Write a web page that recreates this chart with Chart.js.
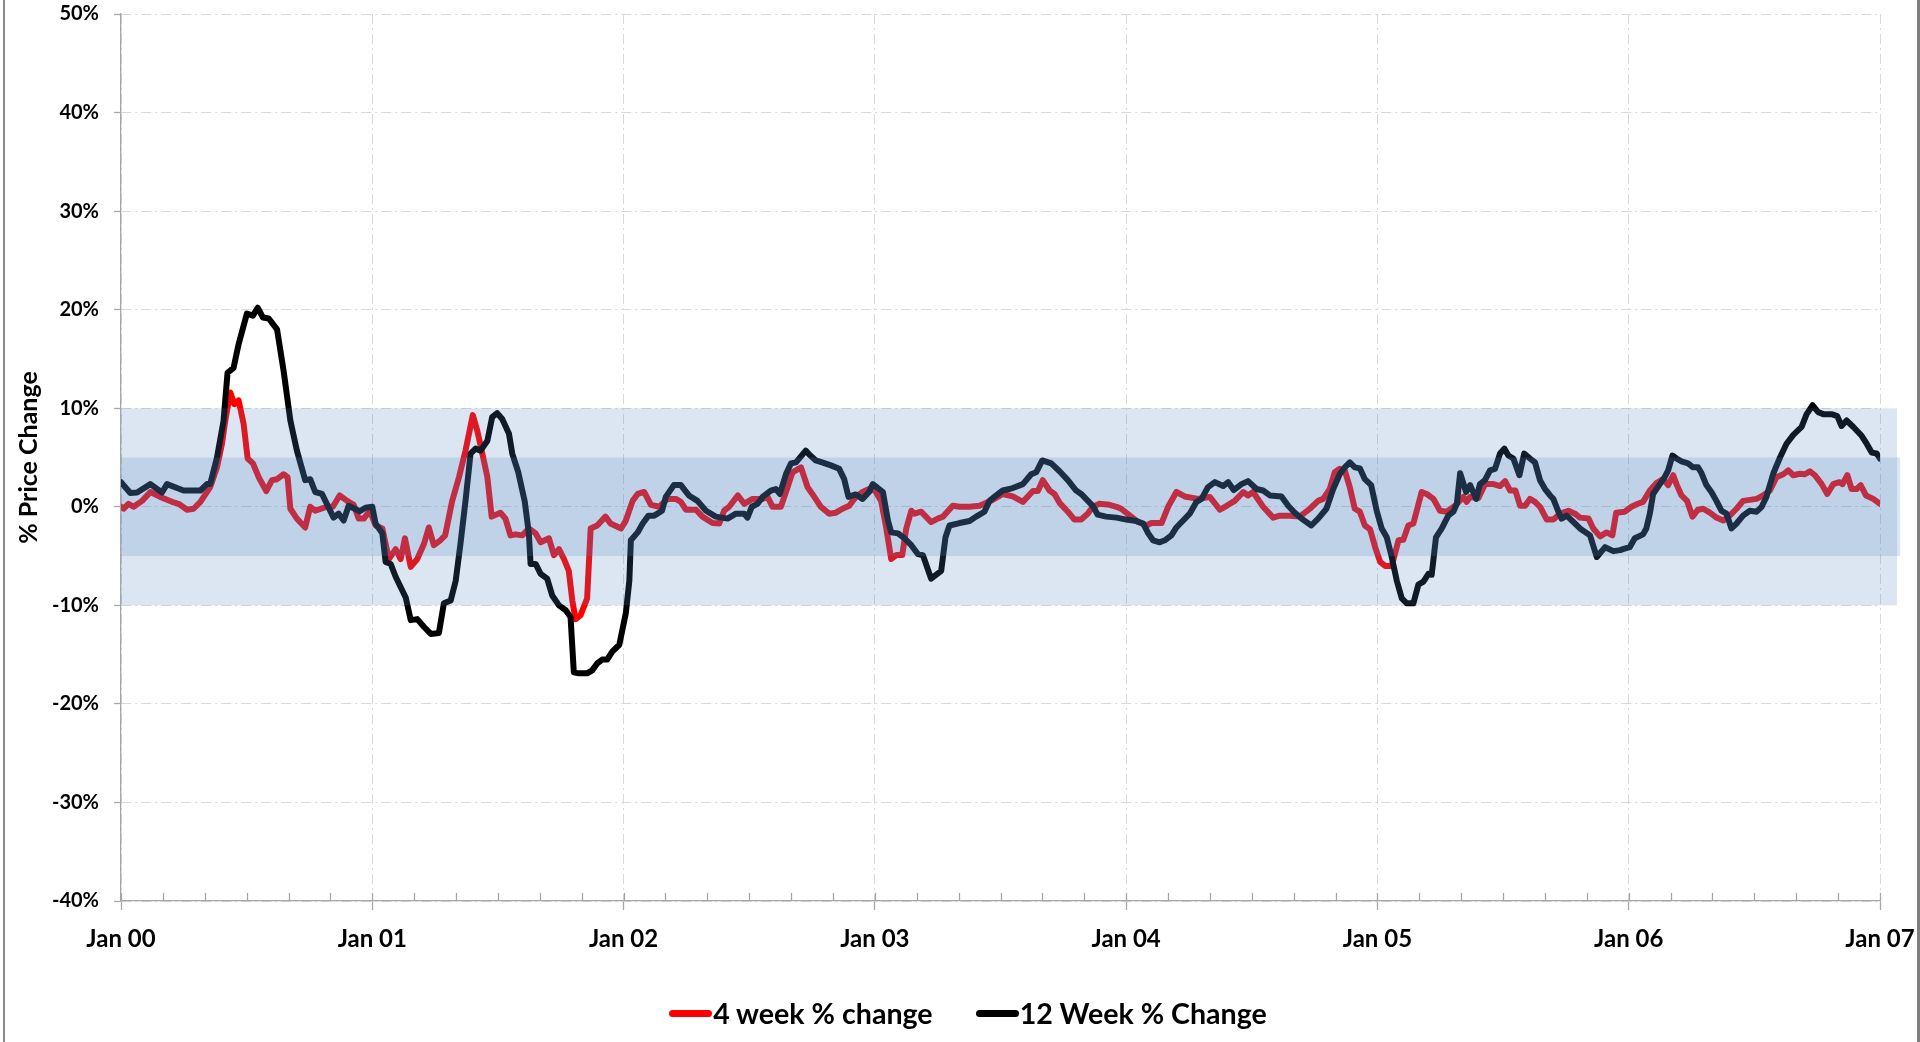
<!DOCTYPE html>
<html>
<head>
<meta charset="utf-8">
<script src="https://cdn.jsdelivr.net/npm/chart.js@4.4.0/dist/chart.umd.min.js"></script>
<style>
html,body{margin:0;padding:0;background:#fff;overflow:hidden}
#wrap{position:relative;width:1920px;height:1042px;background:#fff}
#c{position:absolute;left:0;top:0}
.frameL{position:absolute;left:3px;top:0;width:2px;height:1042px;background:#8a8a8a}
.frameR{position:absolute;left:1917px;top:0;width:3px;height:1042px;background:#7f7f7f}
#legend{position:absolute;left:8px;width:1920px;top:993px;height:40px;display:flex;justify-content:center;align-items:center;font-family:Lato,sans-serif;font-weight:bold;font-size:28.6px;color:#000}
.item{display:flex;align-items:center;white-space:nowrap}
.item + .item{margin-left:43px}
.sw{width:43px;height:7px;border-radius:4px;margin-right:1px}
</style>
</head>
<body>
<div id="wrap">
  <canvas id="c" width="1920" height="1042"></canvas>
  <div class="frameL"></div>
  <div class="frameR"></div>
  <div id="legend"></div>
</div>
<script>
// ---- Data (x = years since Jan 2000, y = % price change) ----
const seriesNames = ['4 week % change', '12 Week % Change'];
const seriesColors = ['#ff0000', '#000000'];

const weeks4 = [0,0.01,0.03,0.05,0.084,0.117,0.156,0.203,0.229,0.263,0.289,0.316,0.355,0.382,0.402,0.415,0.435,0.451,0.468,0.488,0.504,0.525,0.548,0.578,0.601,0.621,0.647,0.663,0.674,0.7,0.733,0.753,0.773,0.82,0.843,0.87,0.9,0.926,0.946,0.966,0.99,
1.013,1.04,1.066,1.093,1.113,1.13,1.153,1.179,1.206,1.225,1.245,1.271,1.29,1.318,1.345,1.371,1.4,1.418,1.438,1.458,1.475,1.51,1.53,1.55,1.57,1.597,1.623,1.65,1.67,1.703,1.723,1.743,1.763,1.782,1.796,1.809,1.829,1.855,1.869,1.895,1.928,1.948,1.965,1.99,
2.009,2.036,2.056,2.082,2.109,2.142,2.175,2.208,2.228,2.248,2.288,2.314,2.354,2.381,2.4,2.42,2.455,2.48,2.513,2.553,2.573,2.593,2.626,2.653,2.672,2.706,2.732,2.759,2.785,2.818,2.845,2.871,2.898,2.924,2.951,2.977,
3.0,3.025,3.045,3.065,3.085,3.109,3.125,3.145,3.158,3.184,3.224,3.25,3.271,3.31,3.337,3.377,3.416,3.462,3.509,3.549,3.589,3.629,3.649,3.668,3.695,3.715,3.735,3.768,3.794,3.821,3.847,3.867,3.894,3.934,3.962,3.98,
4.015,4.048,4.081,4.1,4.141,4.167,4.2,4.233,4.286,4.333,4.373,4.4,4.432,4.466,4.485,4.505,4.545,4.585,4.611,4.651,4.691,4.731,4.764,4.784,4.81,4.83,4.85,4.87,4.89,4.91,4.93,4.95,4.971,4.991,
5.011,5.031,5.057,5.084,5.103,5.123,5.143,5.176,5.196,5.223,5.249,5.276,5.309,5.342,5.355,5.369,5.402,5.428,5.462,5.488,5.508,5.528,5.549,5.568,5.588,5.607,5.627,5.647,5.674,5.7,5.727,5.76,5.786,5.806,5.84,5.859,5.886,5.912,5.935,5.95,5.984,
6.011,6.037,6.057,6.084,6.11,6.137,6.157,6.177,6.19,6.21,6.232,6.254,6.276,6.296,6.323,6.349,6.376,6.402,6.429,6.455,6.482,6.509,6.535,6.562,6.588,6.615,6.635,6.655,6.681,6.701,6.721,6.741,6.768,6.79,6.814,6.838,6.851,6.87,6.887,6.907,6.923,6.944,6.973,7.0];
const change4 = [0,-0.2,0.3,0,0.6,1.5,1.0,0.5,0.3,-0.3,-0.2,0.5,2.0,4.0,6.4,8.75,11.6,10.4,10.8,8.4,4.9,4.4,3.0,1.6,2.7,2.8,3.3,3.0,-0.2,-1.2,-2.1,0,-0.4,0,0,1.15,0.6,0.2,-1.2,-1.2,-0.4,
-1.9,-2.2,-5.3,-4.3,-5.3,-3.2,-6.1,-5.3,-3.75,-2.1,-3.9,-3.4,-2.9,0.6,3.0,5.7,9.3,7.7,5.4,3.0,-1.0,-0.6,-1.2,-2.9,-2.8,-2.9,-2.2,-2.7,-3.6,-3.2,-4.9,-4.3,-5.3,-6.5,-9.5,-11.4,-11.0,-9.3,-2.2,-1.9,-1.0,-1.7,-1.9,-2.2,
-1.4,0.6,1.3,1.5,0.2,0,0.8,0.8,0.5,-0.3,-0.3,-1.0,-1.65,-1.7,-0.4,0,1.15,0.3,0.8,0.8,1.0,0,0,2.0,3.5,4.0,2.0,1.0,0,-0.7,-0.6,-0.2,0.1,1.0,1.5,1.8,
1.65,0.6,-2.1,-5.3,-4.9,-4.9,-2.2,-0.4,-0.7,-0.5,-1.55,-1.2,-1.0,0.1,0,0,0.1,0.6,1.3,1.05,0.5,1.6,1.6,2.7,1.65,1.3,0.4,-0.5,-1.3,-1.3,-0.7,0,0.3,0.2,0,-0.2,
-0.9,-1.55,-1.9,-1.65,-1.65,0,1.5,1.05,0.8,1.0,-0.3,0.1,0.6,1.5,1.15,1.5,0,-1.1,-0.9,-0.9,-1.0,-0.2,0.6,0.8,1.8,3.5,3.85,3.7,2.0,-0.2,-0.5,-1.9,-2.3,-4.1,
-5.6,-6.0,-6.0,-3.4,-3.35,-1.9,-1.7,1.5,1.3,0.8,-0.4,-0.5,0.1,1.0,0.5,1.0,0.9,2.3,2.3,2.1,2.6,1.65,1.65,0.1,0.1,0.8,0.5,0,-1.3,-1.3,-0.7,-0.4,-0.7,-1.1,-1.2,-2.2,-3.0,-2.6,-2.9,-0.6,-0.5,
0,0.3,0.5,1.65,2.4,2.8,2.2,3.2,2.3,1.15,0.6,-1.0,-0.3,-0.2,-0.6,-1.1,-1.4,-0.9,-0.2,0.6,0.7,0.8,1.15,1.65,3.0,3.3,3.7,3.2,3.35,3.3,3.6,3.2,2.3,1.3,2.3,2.5,2.3,3.2,1.8,1.8,2.2,1.15,0.8,0.3];

const weeks12 = [0,0.037,0.064,0.117,0.163,0.183,0.223,0.249,0.316,0.342,0.355,0.382,0.408,0.424,0.448,0.468,0.501,0.525,0.544,0.565,0.588,0.621,0.647,0.674,0.7,0.733,0.753,0.773,0.8,0.846,0.866,0.886,0.906,0.95,0.973,1.0,
1.013,1.04,1.053,1.073,1.093,1.133,1.153,1.179,1.206,1.233,1.265,1.285,1.312,1.332,1.351,1.371,1.391,1.411,1.431,1.458,1.477,1.497,1.517,1.544,1.557,1.581,1.607,1.623,1.63,1.65,1.67,1.696,1.716,1.743,1.77,1.789,1.802,1.822,1.855,1.875,1.895,1.915,1.935,1.955,1.983,
2.009,2.023,2.029,2.056,2.076,2.099,2.122,2.153,2.168,2.2,2.228,2.26,2.294,2.328,2.367,2.414,2.447,2.48,2.493,2.51,2.533,2.553,2.586,2.606,2.622,2.646,2.666,2.686,2.725,2.739,2.765,2.79,2.825,2.858,2.878,2.895,2.924,2.951,2.977,2.992,
3.032,3.052,3.065,3.092,3.118,3.145,3.171,3.191,3.224,3.264,3.281,3.297,3.337,3.377,3.403,3.436,3.456,3.483,3.509,3.549,3.589,3.622,3.642,3.666,3.702,3.735,3.768,3.801,3.821,3.867,3.887,3.92,3.962,
4.001,4.041,4.068,4.088,4.107,4.134,4.154,4.18,4.2,4.253,4.28,4.3,4.326,4.353,4.386,4.406,4.428,4.459,4.485,4.519,4.545,4.572,4.618,4.645,4.671,4.698,4.737,4.764,4.797,4.824,4.85,4.87,4.89,4.91,4.93,4.95,4.975,4.997,
5.017,5.037,5.057,5.077,5.097,5.117,5.143,5.163,5.183,5.203,5.216,5.233,5.256,5.282,5.302,5.316,5.329,5.353,5.369,5.393,5.408,5.428,5.448,5.468,5.488,5.505,5.521,5.541,5.565,5.584,5.607,5.627,5.647,5.667,5.687,5.7,5.72,5.733,5.753,5.78,5.806,5.846,5.873,5.906,5.939,5.966,5.977,
6.004,6.024,6.057,6.07,6.084,6.097,6.124,6.143,6.157,6.174,6.19,6.21,6.236,6.256,6.276,6.29,6.309,6.329,6.349,6.369,6.389,6.409,6.429,6.455,6.482,6.509,6.529,6.548,6.575,6.602,6.628,6.655,6.688,6.708,6.732,6.754,6.774,6.807,6.83,6.847,6.867,6.894,6.927,6.947,6.967,6.987,7.0];
const change12 = [2.5,1.4,1.45,2.3,1.45,2.3,1.9,1.65,1.65,2.3,2.3,5.0,8.7,13.6,14.1,16.5,19.6,19.4,20.2,19.2,19.1,18.0,13.8,8.75,5.7,2.7,2.8,1.5,1.3,-1.1,-0.7,-1.4,0.1,-0.45,-0.1,0,
-1.7,-2.7,-5.6,-5.8,-7.1,-9.2,-11.5,-11.4,-12.2,-12.9,-12.8,-9.8,-9.5,-7.5,-3.75,0.6,5.4,5.9,5.7,6.7,9.1,9.5,8.9,7.4,5.4,3.5,0.5,-2.7,-5.8,-5.8,-6.8,-7.3,-9.0,-10.0,-10.5,-11.2,-16.8,-16.9,-16.9,-16.6,-15.9,-15.5,-15.5,-14.7,-14.0,
-10.8,-7.5,-3.4,-2.6,-1.7,-0.9,-0.9,-0.4,1.0,2.2,2.2,1.15,0.6,-0.4,-1.0,-1.2,-0.7,-0.7,-1.1,0,0.3,1.0,1.65,1.8,1.3,3.3,4.4,4.5,5.7,5.3,4.7,4.5,4.2,3.85,2.8,1.0,1.25,0.8,1.5,2.3,
1.5,-1.4,-2.6,-2.7,-3.2,-3.9,-4.8,-4.9,-7.3,-6.5,-3.1,-1.9,-1.65,-1.45,-1.0,-0.5,0.6,1.15,1.65,1.9,2.3,3.3,3.5,4.7,4.4,3.6,2.7,1.65,1.3,0.1,-0.8,-1.0,-1.1,
-1.3,-1.45,-1.7,-2.7,-3.4,-3.6,-3.4,-2.9,-2.1,-0.7,0.5,0.8,2.0,2.5,2.1,2.5,1.7,2.3,2.6,1.8,1.65,1.15,1.05,0.1,-0.6,-1.2,-1.9,-1.2,-0.2,1.8,3.3,4.0,4.5,4.0,3.9,2.8,2.2,-0.4,
-2.2,-3.1,-5.1,-7.5,-9.3,-9.8,-9.8,-7.9,-7.6,-6.8,-6.9,-3.1,-2.2,-0.9,-0.5,0.3,3.4,1.5,2.2,0.8,2.3,2.7,3.7,3.85,5.4,5.9,5.2,4.9,3.2,5.4,4.9,4.5,2.7,1.8,1.15,0.8,-0.5,-1.2,-0.9,-1.55,-2.2,-2.9,-5.1,-4.1,-4.5,-4.4,-4.3,
-4.1,-3.2,-2.8,-2.2,-0.7,1.3,2.3,3.0,3.7,5.2,4.9,4.6,4.4,4.0,4.0,3.4,2.2,1.5,0.6,-0.4,-0.7,-2.2,-1.7,-0.9,-0.4,-0.5,0,1.0,3.35,5.0,6.4,7.3,8.1,9.4,10.3,9.6,9.4,9.4,9.2,8.2,8.75,8.1,7.2,6.4,5.5,5.4,4.9];

const xTickLabels = ['Jan 00','Jan 01','Jan 02','Jan 03','Jan 04','Jan 05','Jan 06','Jan 07'];
const yTickValues = [-40,-30,-20,-10,0,10,20,30,40,50];
const bandRanges = [[-10, 10], [-5, 5]];   // shaded tolerance bands (% change)
const bandEnds = [7.068, 7.08];             // x where each band stops (years)

// ---- Legend (HTML) ----
const legendEl = document.getElementById('legend');
seriesNames.forEach((n, i) => {
  const it = document.createElement('div'); it.className = 'item';
  const sw = document.createElement('div'); sw.className = 'sw'; sw.style.background = seriesColors[i];
  const tx = document.createElement('span'); tx.textContent = n;
  it.appendChild(sw); it.appendChild(tx); legendEl.appendChild(it);
});

const toPts = (xs, ys) => xs.map((x, i) => ({x: x, y: ys[i]}));
const FONT = 'Lato, "DejaVu Sans", sans-serif';
const GRID = '#d9d9d9';
const AXIS = '#a6a6a6';

const bandPlugin = {
  id: 'bands',
  afterDatasetsDraw(chart) {
    const {ctx, scales: {x, y}} = chart;
    ctx.save();
    ctx.fillStyle = 'rgba(79,129,189,0.2)';
    bandRanges.forEach((r, i) => {
      const x0 = x.getPixelForValue(0), x1 = x.getPixelForValue(bandEnds[i]);
      const yTop = y.getPixelForValue(r[1]), yBot = y.getPixelForValue(r[0]);
      ctx.fillRect(x0, yTop, x1 - x0, yBot - yTop);
    });
    ctx.restore();
  }
};
const innerTicks = {
  id: 'innerTicks',
  afterDraw(chart) {
    const {ctx, scales: {x}, chartArea} = chart;
    ctx.save();
    ctx.strokeStyle = AXIS; ctx.lineWidth = 1.3;
    ctx.beginPath();
    for (let i = 0; i <= 42; i++) {
      const px = Math.round(x.getPixelForValue(i / 6)) + 0.5;
      ctx.moveTo(px, chartArea.bottom - 8); ctx.lineTo(px, chartArea.bottom);
    }
    ctx.stroke();
    ctx.restore();
  }
};

new Chart(document.getElementById('c'), {
  type: 'line',
  data: {
    datasets: [
      {label: seriesNames[0], data: toPts(weeks4, change4), borderColor: seriesColors[0], backgroundColor: seriesColors[0],
       borderWidth: 6, pointRadius: 0, tension: 0, order: 1, borderJoinStyle: 'round', borderCapStyle: 'round'},
      {label: seriesNames[1], data: toPts(weeks12, change12), borderColor: seriesColors[1], backgroundColor: seriesColors[1],
       borderWidth: 6, pointRadius: 0, tension: 0, order: 0, borderJoinStyle: 'round', borderCapStyle: 'round'}
    ]
  },
  options: {
    responsive: false,
    devicePixelRatio: 1,
    animation: false,
    layout: {padding: {left: 0, right: 40, top: 14, bottom: 0}},
    plugins: {legend: {display: false}, tooltip: {enabled: false}},
    scales: {
      x: {
        type: 'linear', min: 0, max: 7,
        afterBuildTicks: s => { s.ticks = xTickLabels.map((_, i) => ({value: i})); },
        afterFit: s => { s.height = 141; s.paddingLeft = 0; s.paddingRight = 0; },
        ticks: {autoSkip: false, maxRotation: 0, padding: 15, color: '#000',
                font: {family: FONT, size: 24, weight: 'bold'},
                callback: v => xTickLabels[Math.round(v)]},
        grid: {color: GRID, lineWidth: 1, tickLength: 9, tickColor: AXIS, tickWidth: 1.3},
        border: {color: AXIS, width: 1.3, dash: [10, 4, 2, 4]}
      },
      y: {
        min: -40, max: 50,
        afterBuildTicks: s => { s.ticks = yTickValues.map(v => ({value: v})); },
        afterFit: s => { s.width = 121; s.paddingTop = 0; s.paddingBottom = 0; },
        ticks: {padding: 15, color: '#000', font: {family: FONT, size: 20, weight: 'bold'},
                callback: v => v + '%'},
        grid: {color: GRID, lineWidth: 1, tickLength: 7, tickColor: AXIS, tickWidth: 1.3},
        border: {color: AXIS, width: 1.3, dash: [10, 4, 2, 4]},
        title: {display: true, text: '% Price Change', color: '#000', padding: {top: 14, bottom: 0},
                font: {family: FONT, size: 25, weight: 'bold'}}
      }
    }
  },
  plugins: [bandPlugin, innerTicks]
});
</script>
</body>
</html>
